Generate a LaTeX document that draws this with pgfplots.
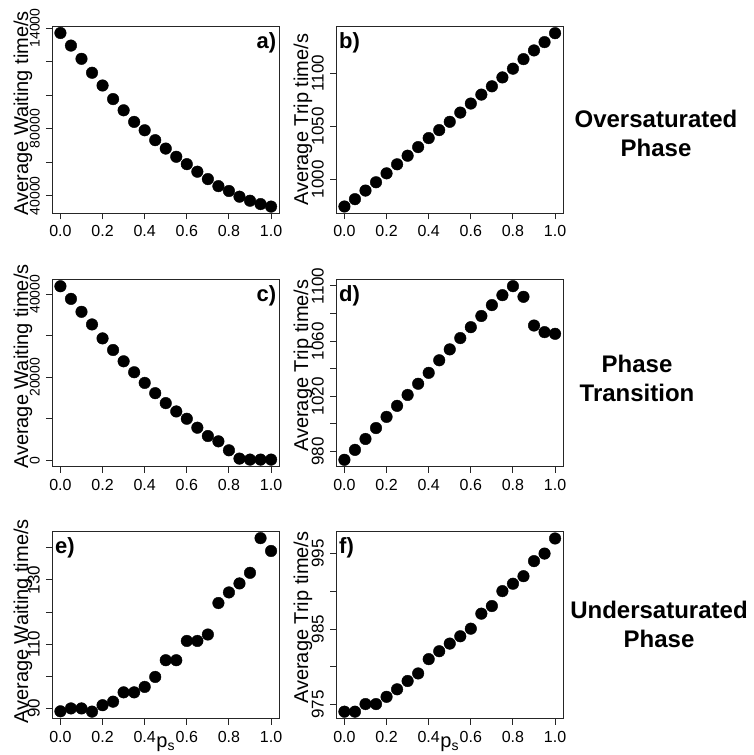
\documentclass[border=0pt]{standalone}
\usepackage{fontspec}
\setmainfont{Liberation Sans}
\usepackage{pgfplots}
\pgfplotsset{compat=1.18}
\pgfplotsset{
  panel/.style={
    scale only axis, width=227.5pt, height=187pt, anchor=south west,
    xmin=-0.04, xmax=1.04, clip=false,
    axis line style={line width=0.9pt, black!85},
    tick style={line width=0.9pt, black!85},
    tick align=outside, major tick length=6pt,
    xtick pos=lower, ytick pos=left,
    xtick={0,0.2,0.4,0.6,0.8,1}, xticklabels={0.0,0.2,0.4,0.6,0.8,1.0},
    xticklabel style={font=\fontsize{16}{16}\selectfont, inner sep=0pt, anchor=north},
    xticklabel shift=6pt,
    yticklabel style={rotate=90, anchor=south, inner sep=0pt, font=\fontsize{17}{17}\selectfont},
    yticklabel shift=6pt,
    scaled y ticks=false,
    /pgf/number format/assume math mode=true,
    every axis x label/.style={at={(axis description cs:0.5,0)}, anchor=base, yshift=-29pt, font=\fontsize{20}{20}\selectfont},
  },
  ylab/.style 2 args={every axis y label/.style={at={(axis description cs:#1,#2)}, rotate=90, anchor=center, font=\fontsize{20}{20}\selectfont}},
  dots/.style={only marks, mark=*, mark size=5.8pt, black},
}
\newcommand{\plab}[1]{\fontsize{22}{22}\selectfont\bfseries #1}
\begin{document}
\begin{tikzpicture}
\useasboundingbox (0,0) rectangle (753pt,755pt);
% ---------- a ----------
\begin{axis}[panel, at={(52pt,541.7pt)}, ylab={-0.128}{0.535},
  ymin=29500, ymax=141000,
  ytick={40000,60000,80000,100000,120000,140000}, yticklabels={40000,,80000,,,14000},
  yticklabel style={font=\fontsize{14}{14}\selectfont},
  ylabel={Average Waiting time/s}]
\addplot[dots] coordinates {
(0.00,137000) (0.05,129500) (0.10,121600) (0.15,113300) (0.20,105700)
(0.25,97600) (0.30,90900) (0.35,84000) (0.40,79000) (0.45,73100)
(0.50,68100) (0.55,63200) (0.60,58800) (0.65,54300) (0.70,49900)
(0.75,45700) (0.80,42800) (0.85,39400) (0.90,37000) (0.95,35000) (1.00,33500)};
\node[anchor=north east, inner sep=0pt] at (rel axis cs:1,1) [xshift=-3pt, yshift=-6pt] {\plab{a)}};
\end{axis}
% ---------- b ----------
\begin{axis}[panel, at={(336pt,541.7pt)}, ylab={-0.145}{0.5},
  ymin=968, ymax=1144,
  ytick={1000,1050,1100}, yticklabels={1000,1050,1100},
  ylabel={Average Trip time/s}]
\addplot[dots] coordinates {
(0.00,974.4) (0.05,981.3) (0.10,989.4) (0.15,997.2) (0.20,1005.6)
(0.25,1014.1) (0.30,1022.2) (0.35,1030.3) (0.40,1038.8) (0.45,1046.3)
(0.50,1054.1) (0.55,1062.8) (0.60,1071.3) (0.65,1079.7) (0.70,1087.5)
(0.75,1095.9) (0.80,1104.1) (0.85,1113.1) (0.90,1121.3) (0.95,1129.1) (1.00,1137.5)};
\node[anchor=north west, inner sep=0pt] at (rel axis cs:0,1) [xshift=3pt, yshift=-6pt] {\plab{b)}};
\end{axis}
% ---------- c ----------
\begin{axis}[panel, at={(52pt,288.3pt)}, ylab={-0.128}{0.535},
  ymin=-1550, ymax=43500,
  ytick={0,10000,20000,30000,40000}, yticklabels={0,,20000,,40000},
  yticklabel style={font=\fontsize{14}{14}\selectfont},
  ylabel={Average Waiting time/s}]
\addplot[dots] coordinates {
(0.00,41920) (0.05,38880) (0.10,35760) (0.15,32720) (0.20,29360)
(0.25,26560) (0.30,23840) (0.35,21200) (0.40,18640) (0.45,16160)
(0.50,13760) (0.55,11760) (0.60,10000) (0.65,7840) (0.70,5840)
(0.75,4560) (0.80,2400) (0.85,400) (0.90,160) (0.95,160) (1.00,160)};
\node[anchor=north east, inner sep=0pt] at (rel axis cs:1,1) [xshift=-3pt, yshift=-6pt] {\plab{c)}};
\end{axis}
% ---------- d ----------
\begin{axis}[panel, at={(336pt,288.3pt)}, ylab={-0.145}{0.54},
  ymin=969, ymax=1104.5,
  ytick={980,1000,1020,1040,1060,1080,1100}, yticklabels={980,,1020,,1060,,1100},
  ylabel={Average Trip time/s}]
\addplot[dots] coordinates {
(0.00,974.0) (0.05,981.2) (0.10,989.1) (0.15,997.0) (0.20,1005.1)
(0.25,1013.1) (0.30,1021.0) (0.35,1029.1) (0.40,1037.0) (0.45,1046.1)
(0.50,1054.0) (0.55,1062.2) (0.60,1070.1) (0.65,1078.2) (0.70,1086.1)
(0.75,1093.3) (0.80,1099.8) (0.85,1092.1) (0.90,1071.3) (0.95,1066.5) (1.00,1065.3)};
\node[anchor=north west, inner sep=0pt] at (rel axis cs:0,1) [xshift=3pt, yshift=-6pt] {\plab{d)}};
\end{axis}
% ---------- e ----------
\begin{axis}[panel, at={(52pt,36.3pt)}, ylab={-0.128}{0.52},
  ymin=86.8, ymax=145,
  ytick={90,100,110,120,130,140}, yticklabels={90,,110,,130,},
  ylabel={Average Waiting time/s}, xlabel={p\textsubscript{s}}]
\addplot[dots] coordinates {
(0.00,89.1) (0.05,90.0) (0.10,90.0) (0.15,89.0) (0.20,91.0)
(0.25,92.1) (0.30,95.0) (0.35,95.0) (0.40,96.7) (0.45,99.8)
(0.50,105.0) (0.55,105.0) (0.60,111.0) (0.65,111.0) (0.70,113.0)
(0.75,122.8) (0.80,126.1) (0.85,128.9) (0.90,132.2) (0.95,143.0) (1.00,139.0)};
\node[anchor=north west, inner sep=0pt] at (rel axis cs:0,1) [xshift=3pt, yshift=-6pt] {\plab{e)}};
\end{axis}
% ---------- f ----------
\begin{axis}[panel, at={(336pt,36.3pt)}, ylab={-0.145}{0.54},
  ymin=973.1, ymax=997.9,
  ytick={975,980,985,990,995}, yticklabels={975,,985,,995},
  ylabel={Average Trip time/s}, xlabel={p\textsubscript{s}}]
\addplot[dots] coordinates {
(0.00,974.03) (0.05,974.03) (0.10,975.04) (0.15,975.04) (0.20,976.0)
(0.25,977.0) (0.30,978.1) (0.35,979.1) (0.40,981.0) (0.45,982.05)
(0.50,983.06) (0.55,984.03) (0.60,985.04) (0.65,987.03) (0.70,988.04)
(0.75,990.02) (0.80,991.0) (0.85,992.0) (0.90,994.0) (0.95,995.0) (1.00,997.0)};
\node[anchor=north west, inner sep=0pt] at (rel axis cs:0,1) [xshift=3pt, yshift=-6pt] {\plab{f)}};
\end{axis}
% ---------- row labels ----------
\node[align=center, font=\fontsize{24}{29}\selectfont\bfseries] at (656pt,622pt) {Oversaturated\\Phase};
\node[align=center, font=\fontsize{24}{29}\selectfont\bfseries] at (637pt,377pt) {Phase\\Transition};
\node[align=center, font=\fontsize{24}{29}\selectfont\bfseries] at (659pt,131pt) {Undersaturated\\Phase};
\end{tikzpicture}
\end{document}
